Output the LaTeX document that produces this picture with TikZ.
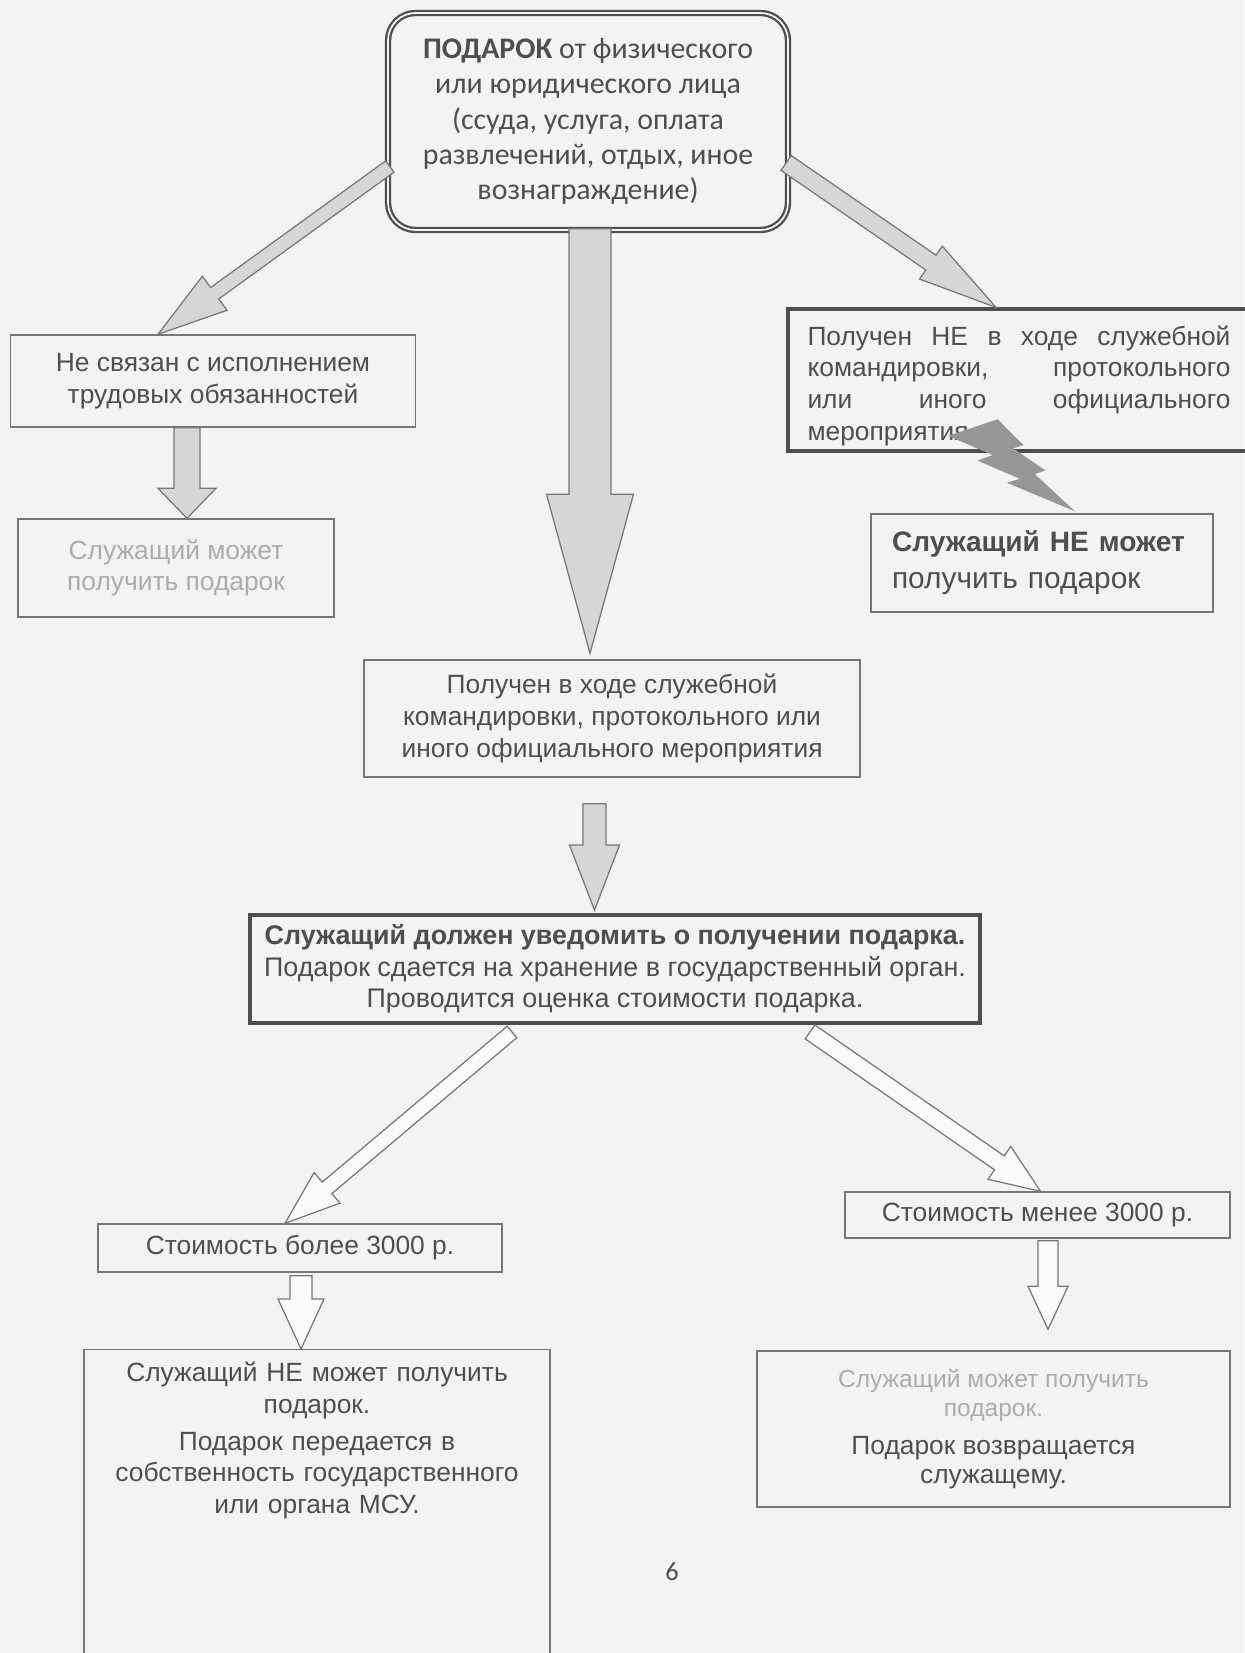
\documentclass[tikz,border=0pt]{standalone}
\usepackage{fontspec}
\setmainfont{Liberation Sans}
\newfontfamily\calibri{Carlito}
\usetikzlibrary{positioning,calc}
\definecolor{paper}{RGB}{243,243,243}
\definecolor{ink}{RGB}{78,78,78}
\definecolor{pale}{RGB}{172,172,172}
\definecolor{rim}{RGB}{118,118,118}
\definecolor{greyfill}{RGB}{214,214,214}
\definecolor{boltgrey}{RGB}{150,150,150}

% block arrow: [style]{tail}{tip}{shaft half width}{head half width}{head length}
\newcommand{\fatarrow}[6][]{%
  \coordinate (fa-s) at #2;
  \coordinate (fa-e) at #3;
  \coordinate (fa-h) at ($(fa-e)!#6!(fa-s)$);
  \draw[#1] ($(fa-s)!#4!90:(fa-e)$) -- ($(fa-h)!#4!90:(fa-e)$) -- ($(fa-h)!#5!90:(fa-e)$) -- (fa-e)
    -- ($(fa-h)!#5!-90:(fa-e)$) -- ($(fa-h)!#4!-90:(fa-e)$) -- ($(fa-s)!#4!-90:(fa-e)$) -- cycle;
}

\begin{document}
\begin{tikzpicture}[node distance=4cm,on grid,
    box/.style={draw=rim,line width=0.8pt,text=ink,align=center,inner sep=0.1cm,
      font=\fontsize{15}{18}\selectfont},
    gift/.style={draw=ink,double=paper,double distance=1pt,line width=1.3pt,
      rounded corners=0.55cm,text=ink,align=center,font=\calibri\fontsize{17}{20}\selectfont},
    heavy/.style={box,draw=ink,line width=2.2pt},
    solidarr/.style={fill=greyfill,draw=rim,line width=0.7pt},
    hollowarr/.style={fill=white!60!paper,draw=rim,line width=0.7pt}]

   \fill[paper] (0,0) rectangle (24.88,-33.06);
   \useasboundingbox (0,0) rectangle (24.88,-33.06);

   \node[gift,minimum width=8cm,minimum height=4.34cm] (G) at (11.76,-2.43)
     {\textbf{ПОДАРОК} от физического\\или юридического лица\\(ссуда, услуга, оплата\\развлечений, отдых, иное\\вознаграждение)};

   \node[box,minimum width=8.1cm,minimum height=1.84cm] (NR) [below left=5.19cm and 7.5cm of G]
     {Не связан с исполнением\\трудовых обязанностей};
   \node[box,text=pale,minimum width=6.32cm,minimum height=1.96cm] (CAN) [below left=3.74cm and 0.74cm of NR]
     {Служащий может\\получить подарок};

   \node[heavy,align=left,text width=8.46cm,inner xsep=0.39cm,minimum height=2.72cm] (OFF) [below right=5.17cm and 8.62cm of G]
     {\rule{0pt}{0.62cm}Получен\hfill НЕ\hfill в\hfill ходе\hfill служебной\\командировки,\hfill протокольного\\или\hfill иного\hfill официального\\мероприятия};
   \node[box,align=left,text width=6.0cm,inner xsep=0.42cm,minimum height=1.96cm,
     font=\fontsize{17}{21}\selectfont] (NOT) [below right=3.66cm and 0.46cm of OFF]
     {{\fontsize{16}{21}\selectfont\textbf{Служащий НЕ может}}\\получить подарок};

   \node[box,minimum width=9.92cm,minimum height=2.34cm] (TRIP) [below right=11.94cm and 0.48cm of G]
     {Получен в ходе служебной\\командировки, протокольного или\\иного официального мероприятия};

   \node[heavy,minimum width=14.6cm,minimum height=2.16cm,font=\fontsize{15.3}{18}\selectfont] (NTF) [below right=5.01cm and 0.06cm of TRIP]
     {\textbf{Служащий должен уведомить о получении подарка.}\\Подарок сдается на хранение в государственный орган.\\Проводится оценка стоимости подарка.};

   \node[box,minimum width=8.08cm,minimum height=0.96cm] (MORE) [below left=5.58cm and 6.3cm of NTF]
     {Стоимость более 3000 р.};
   \node[box,minimum width=7.7cm,minimum height=0.92cm] (LESS) [below right=4.92cm and 8.45cm of NTF]
     {Стоимость менее 3000 р.};

   \node[box,text width=9.0cm,inner xsep=0.16cm,inner ysep=0.25cm,text depth=6cm] (GOV) [below right=2.02cm and 0.34cm of MORE,anchor=north]
     {Служащий НЕ может получить\\подарок.\\[3pt]Подарок передается в\\собственность государственного\\или органа МСУ.};
   \node[box,minimum width=9.46cm,minimum height=3.12cm,font=\fontsize{15}{16.5}\selectfont] (BACK) [below left=4.28cm and 0.88cm of LESS]
     {\textcolor{pale}{\fontsize{14}{15}\selectfont Служащий может получить}\\\textcolor{pale}{\fontsize{14}{15}\selectfont подарок.}\\[5pt]Подарок возвращается\\служащему.};

   \node[text=ink,font=\calibri\fontsize{15}{18}\selectfont] (PG) at (13.44,-31.44) {6};

   \fatarrow[solidarr]{($(G.west)+(0.06,-0.9)$)}{($(NR.north)+(-1.1,0)$)}{0.14cm}{0.42cm}{1.4cm}
   \fatarrow[solidarr]{($(NR.south)+(-0.52,0)$)}{($(CAN.north)+(0.22,0)$)}{0.26cm}{0.58cm}{0.6cm}
   \fatarrow[solidarr]{($(G.south)+(0.04,0.05)$)}{($(TRIP.north)+(-0.44,0.12)$)}{0.42cm}{0.87cm}{3.18cm}
   \fatarrow[solidarr]{($(G.east)+(-0.06,-0.83)$)}{($(OFF.north)+(-0.46,0)$)}{0.18cm}{0.4cm}{1.58cm}
   \fatarrow[solidarr]{($(TRIP.south)+(-0.35,-0.52)$)}{($(NTF.north)+(-0.41,0.06)$)}{0.23cm}{0.5cm}{1.3cm}
   \fatarrow[hollowarr]{($(NTF.south)+(-2.06,-0.14)$)}{($(MORE.north)+(-0.3,0)$)}{0.15cm}{0.4cm}{1.1cm}
   \fatarrow[hollowarr]{($(NTF.south)+(3.9,-0.14)$)}{($(LESS.north)+(0.06,0)$)}{0.17cm}{0.4cm}{1.0cm}
   \fatarrow[hollowarr]{($(MORE.south)+(0.02,-0.06)$)}{($(GOV.north)+(-0.32,0)$)}{0.22cm}{0.46cm}{1.0cm}
   \fatarrow[hollowarr]{($(LESS.south)+(0.21,-0.04)$)}{($(BACK.north)+(1.09,0.42)$)}{0.2cm}{0.4cm}{0.86cm}

   % lightning from OFF down to NOT
   \coordinate (zap) at ($(NOT.north)+(0.66,0.04)$);
   \fill[boltgrey,shift={(zap)}] (-1.544,1.84) -- (-1.029,1.323) -- (-1.24,1.26) -- (-0.592,0.817)
     -- (-0.803,0.743) -- (0,0) -- (-1.361,0.57) -- (-1.102,0.65) -- (-1.951,1.014)
     -- (-1.646,1.126) -- (-2.54,1.509) -- cycle;
\end{tikzpicture}
\end{document}
